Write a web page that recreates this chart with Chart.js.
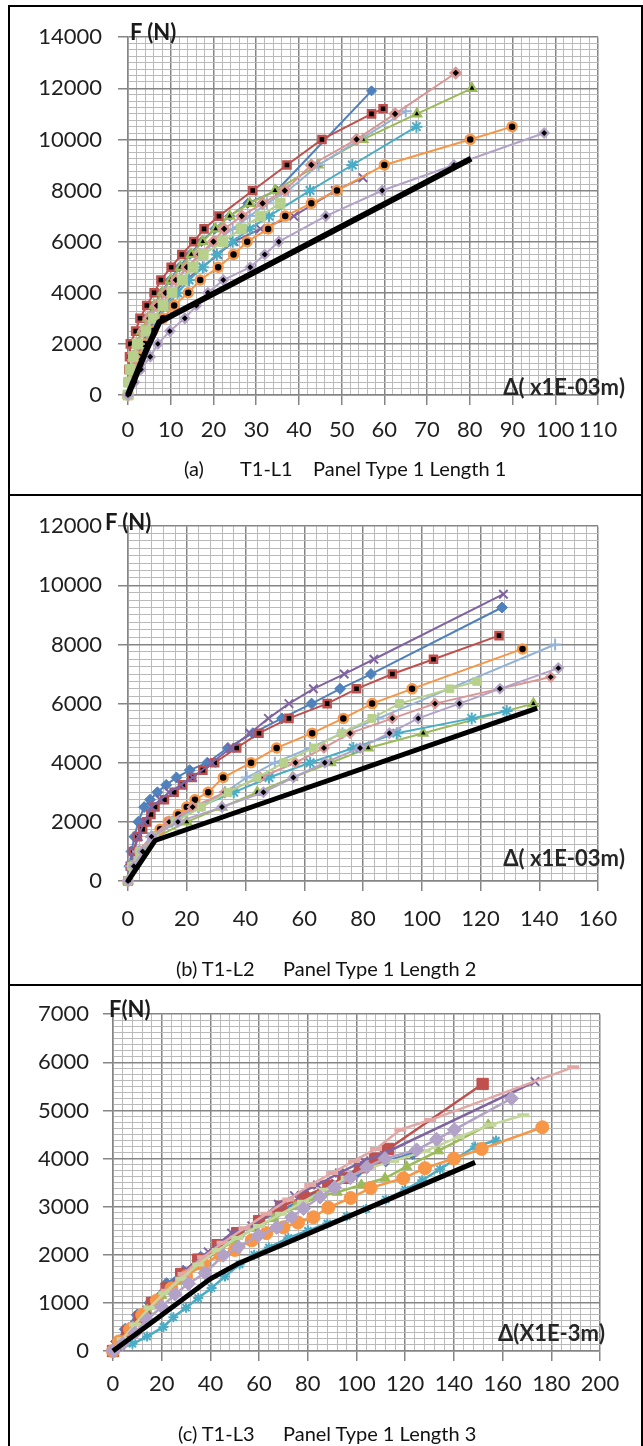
<!DOCTYPE html>
<html>
<head>
<meta charset="utf-8">
<script src="https://cdn.jsdelivr.net/npm/chart.js@4.4.0/dist/chart.umd.min.js"></script>
<style>
html,body{margin:0;padding:0;background:#fff;}
body{width:643px;height:1446px;position:relative;overflow:hidden;font-family:Lato,"Open Sans",sans-serif;}
canvas{position:absolute;left:0;}
.ln{position:absolute;background:#000;z-index:3;}
.t{position:absolute;white-space:pre;line-height:26px;z-index:4;color:#1a1a1a;}
.ft{font-weight:700;font-size:22px;}
.dt{font-weight:700;font-size:22px;color:#262626;}
.cap{font-size:20px;color:#111;}
</style>
</head>
<body>
<div class="ln" style="left:8px;top:5px;width:2px;height:1441px"></div>
<div class="ln" style="left:641px;top:5px;width:2px;height:1441px"></div>
<div class="ln" style="left:8px;top:5px;width:635px;height:2px"></div>
<div class="ln" style="left:8px;top:494px;width:635px;height:2px"></div>
<div class="ln" style="left:8px;top:984px;width:635px;height:2px"></div>

<canvas id="ca" width="643" height="486" style="top:8px"></canvas>
<canvas id="cb" width="643" height="486" style="top:497px"></canvas>
<canvas id="cc" width="643" height="459" style="top:987px"></canvas>

<div class="t ft" style="left:130px;top:19px">F (N)</div>
<div class="t dt" style="right:18px;top:374px">Δ( x1E-03m)</div>
<div class="t cap" style="left:184px;top:455px">(a)</div>
<div class="t cap" style="left:240px;top:455px">T1-L1</div>
<div class="t cap" style="left:313px;top:455px">Panel Type 1 Length 1</div>

<div class="t ft" style="left:105px;top:509px">F (N)</div>
<div class="t dt" style="right:18px;top:845px">Δ( x1E-03m)</div>
<div class="t cap" style="left:176px;top:955px">(b) T1-L2</div>
<div class="t cap" style="left:283px;top:955px">Panel Type 1 Length 2</div>

<div class="t ft" style="left:109px;top:996px">F(N)</div>
<div class="t dt" style="right:38px;top:1320px">Δ(X1E-3m)</div>
<div class="t cap" style="left:178px;top:1420px">(c) T1-L3</div>
<div class="t cap" style="left:283px;top:1420px">Panel Type 1 Length 3</div>

<script>
// ---------- Panel (a) T1-L1 ----------
const A_X_TICKS = [0,10,20,30,40,50,60,70,80,90,100,110];
const A_Y_TICKS = [0,2000,4000,6000,8000,10000,12000,14000];
const A_BLUE    = [[0,0],[0.4,500],[0.9,1000],[1.5,1500],[2.3,2000],[3.3,2500],[4.5,3000],[6,3500],[7.8,4000],[9.8,4500],[12,5000],[14.5,5500],[17.2,6000],[20.3,6500],[23.8,7000],[28,7500],[34.8,8000],[57,11900]];
const A_RED     = [[0,0],[0.1,500],[0.2,1000],[0.35,1500],[0.55,2000],[1.8,2500],[2.8,3000],[4.4,3500],[6.1,4000],[7.7,4500],[10.1,5000],[12.6,5500],[15.4,6000],[17.8,6500],[21.3,7000],[29.2,8000],[37.2,9000],[45.4,10000],[57,11000],[59.7,11200]];
const A_GREEN   = [[0,0],[0.3,500],[0.7,1000],[1.2,1500],[2,2000],[3.2,2500],[4.6,3000],[6.2,3500],[8,4000],[10,4500],[12.3,5000],[14.8,5500],[17.5,6000],[20.5,6500],[23.8,7000],[28.5,7500],[34.4,8000],[44.5,9000],[55,10000],[67.6,11000],[80.5,12000]];
const A_PURPLE  = [[0,0],[0.6,500],[1.3,1000],[2.2,1500],[3.3,2000],[4.7,2500],[6.4,3000],[8.5,3500],[10.8,4000],[13.5,4500],[17.5,5000],[21,5500],[24.8,6000],[31,6500],[38.8,7000],[48.5,8000],[55,8500]];
const A_TEAL    = [[0,0],[0.8,500],[1.6,1000],[2.6,1500],[3.8,2000],[5.3,2500],[7,3000],[9.2,3500],[11.6,4000],[14.3,4500],[17.5,5000],[20.8,5500],[24.5,6000],[28.5,6500],[33,7000],[42.6,8000],[52.5,9000],[67.5,10500]];
const A_ORANGE  = [[0,0],[0.6,500],[1.3,1000],[2.4,1500],[3.9,2000],[5.8,2500],[8.2,3000],[10.8,3500],[14.1,4000],[16.9,4500],[21.1,5000],[24.7,5500],[27.9,6000],[32.8,6500],[36.8,7000],[42.9,7500],[48.9,8000],[60,9000],[80.1,10000],[89.9,10500]];
const A_LBLUE   = [[0,0],[0.4,500],[0.9,1000],[1.6,1500],[2.5,2000],[3.7,2500],[5.2,3000],[7,3500],[9,4000],[11.3,4500],[14,5000],[17,5500],[20.5,6000],[24.5,6500],[28.5,7000],[32.5,7500],[37.5,8000],[44.6,9000],[65,11100]];
const A_PINK    = [[0,0],[0.4,500],[0.9,1000],[1.5,1500],[2.4,2000],[3.6,2500],[5,3000],[6.8,3500],[8.8,4000],[11.2,4500],[13.8,5000],[16.7,5500],[20,6000],[22.5,6500],[26.6,7000],[31.5,7500],[36.7,8000],[42.9,9000],[53.5,10000],[62.5,11000],[76.7,12600]];
const A_LGREEN  = [[0,0],[0.2,500],[0.5,1000],[1.2,1500],[2.2,2000],[4.2,2500],[5.9,3000],[8.2,3500],[10.3,4000],[12.7,4500],[15.2,5000],[17.6,5500],[22.2,6000],[26.5,6500],[31,7000],[35.6,7500]];
const A_LPURPLE = [[0,0],[1.5,500],[3,1000],[5.2,1500],[7,2000],[9.8,2500],[13.3,3000],[16,3500],[18.7,4000],[22.3,4500],[28.6,5000],[32,5500],[35.3,6000],[46.3,7000],[59.5,8000],[76.3,9000],[97.4,10250]];
const A_BLACK   = [[0,0],[4,1650],[7.3,2850],[80.3,9250]];

// ---------- Panel (b) T1-L2 ----------
const B_X_TICKS = [0,20,40,60,80,100,120,140,160];
const B_Y_TICKS = [0,2000,4000,6000,8000,10000,12000];
const B_PURPLE  = [[0,0],[0.8,500],[2,1000],[3.5,1500],[5.5,2000],[8,2500],[11,2750],[14,3000],[18,3250],[22,3500],[28.5,4000],[35,4500],[41.5,5000],[47.8,5500],[54.8,6000],[63.1,6500],[73.6,7000],[83.7,7500],[127.8,9700]];
const B_BLUE    = [[0,0],[0.5,500],[1.2,1000],[2.2,1500],[3.5,2000],[5.5,2500],[7.5,2750],[10,3000],[13,3250],[16.5,3500],[21,3750],[27,4000],[34,4500],[42.5,5000],[52.4,5500],[62.5,6000],[72.2,6500],[82.7,7000],[127.3,9250]];
const B_RED     = [[0,0],[0.8,500],[1.8,1000],[3.2,1500],[5,1750],[6.4,2000],[7.8,2250],[9.2,2500],[12.4,2750],[15.7,3000],[18.6,3250],[21.7,3500],[25.5,3750],[29.5,4000],[37,4500],[44.6,5000],[54.8,5500],[67.8,6000],[77.8,6500],[90,7000],[104,7500],[126.3,8300]];
const B_ORANGE  = [[0,0],[1.5,500],[4,1000],[9,1500],[10.9,1750],[13.7,2000],[17.1,2250],[20,2500],[22.8,2750],[27.3,3000],[32.4,3500],[41.9,4000],[50.6,4500],[62.7,5000],[73.3,5500],[83.1,6000],[96.7,6500],[134.3,7850]];
const B_LBLUE   = [[0,0],[1,500],[3.5,1000],[8,1500],[15,2000],[24,2500],[33,3000],[40.4,3500],[50,4000],[62,4500],[73,5000],[85.2,5500],[145.4,8000]];
const B_LGREEN  = [[0,0],[1.2,500],[4,1000],[9,1500],[16,2000],[25,2500],[34,3000],[44,3500],[53,4000],[63.1,4500],[72.7,5000],[83,5500],[92.4,6000],[109.6,6500],[118.7,6750]];
const B_LPURPLE = [[0,0],[2,500],[5,1000],[8,1500],[17,2000],[32,2500],[46.1,3000],[56.3,3500],[67,4000],[79,4500],[89,5000],[98.8,5500],[112.8,6000],[126.6,6500],[146.5,7200]];
const B_PINK    = [[0,0],[1.5,500],[4,1000],[8,1500],[14,2000],[22,2500],[33,3000],[45,3500],[57,4000],[66.7,4500],[75.6,5000],[90,5500],[104.5,6000],[143.9,6900]];
const B_GREEN   = [[0,0],[2,500],[5,1000],[10,1500],[20,2000],[32,2500],[44,3000],[56,3500],[69,4000],[81.8,4500],[100.5,5000],[138,6000]];
const B_TEAL    = [[0,0],[1.5,500],[4,1000],[8,1500],[14,2000],[24,2500],[36,3000],[48,3500],[62,4000],[76.7,4500],[91.5,5000],[117,5500],[128.9,5750]];
const B_BLACK   = [[0,0],[9.2,1370],[139.3,5850]];

// ---------- Panel (c) T1-L3 ----------
const C_X_TICKS = [0,20,40,60,80,100,120,140,160,180,200];
const C_Y_TICKS = [0,1000,2000,3000,4000,5000,6000,7000];
const C_BLUE    = [[0,0],[1.5,200],[5,450],[10,750],[15.2,1000],[22,1400],[29,1650],[36,1950],[44,2200],[52,2450],[60,2700],[70,2950],[80,3200],[90,3450],[100,3700],[112,3950],[123,4100]];
const C_RED     = [[0,0],[2.5,150],[6,400],[11,700],[16,1000],[22,1300],[28,1600],[35,1900],[43,2200],[51,2450],[60,2700],[69,3000],[78,3200],[88.4,3430],[94.6,3600],[101.4,3820],[107.6,4000],[113,4200],[151.8,5550]];
const C_GREEN   = [[0,0],[3,200],[8,500],[14,850],[20,1150],[27,1450],[34,1750],[42,2050],[50,2300],[58,2550],[66,2750],[75,3000],[84,3200],[92,3300],[102,3450],[111.7,3590],[120.6,3830],[133.6,4160],[154.1,4700]];
const C_PURPLE  = [[0,0],[3,200],[8,500],[14,850],[22,1250],[30.2,1690],[39.1,2060],[48.7,2450],[57,2600],[67.9,3050],[74.5,3230],[84,3450],[93,3700],[103,3950],[111,4100],[173.3,5600]];
const C_TEAL    = [[0,0],[8,150],[14,300],[20.7,500],[24.8,700],[30,900],[35,1100],[40.5,1310],[46,1550],[52,1800],[58,2000],[64,2150],[72,2350],[80,2500],[88,2650],[96,2800],[104,2950],[112,3150],[120,3350],[127,3550],[134.3,3780],[141,4000],[148.7,4250],[157.3,4375]];
const C_ORANGE  = [[0,0],[2.5,200],[7,450],[12,750],[18,1050],[24,1300],[30,1550],[37,1800],[44,2000],[50,2100],[57,2300],[63,2450],[70,2570],[76,2670],[82.3,2780],[88.4,2980],[97.6,3180],[105.8,3390],[119.2,3590],[128.1,3800],[140,4000],[151.4,4200],[176.3,4650]];
const C_PINK    = [[0,0],[4,250],[9,550],[15,900],[22,1250],[29,1600],[37,1950],[45,2250],[54,2550],[63,2850],[72,3150],[81,3450],[90,3700],[99,3950],[108,4200],[118,4600],[130.2,4800],[189,5900]];
const C_LGREEN  = [[0,0],[4,250],[9,550],[15,900],[21,1200],[28,1500],[35,1800],[43,2100],[51,2350],[60,2600],[69,2850],[78,3100],[87,3350],[96,3600],[105,3800],[115,3950],[128,4150],[142,4450],[155,4700],[168.5,4900]];
const C_LPURPLE = [[0,0],[4,150],[9,370],[14,650],[20,920],[25.5,1180],[31,1400],[37.8,1620],[45.3,1990],[51.5,2160],[59.7,2400],[67.2,2570],[73.4,2780],[78.2,2960],[85,3200],[91,3400],[97.5,3600],[104.2,3820],[111.7,4000],[124.7,4180],[132.9,4400],[140.2,4600],[163.7,5250]];
const C_BLACK   = [[0,0],[20,750],[40,1500],[51.5,1820],[148.7,3920]];

// ---------- styling ----------
const COL = {blue:'#4F81BD', red:'#C0504D', green:'#9BBB59', purple:'#8064A2', teal:'#4BACC6',
  orange:'#F79646', lblue:'#95B3D7', pink:'#DA9694', lgreen:'#B7D18C', lpurple:'#B3A2C7', black:'#000000'};
const MAJ = '#858585', MIN = '#bababa';
const TICK_FONT = {family:'Lato, "Open Sans", sans-serif', size:22};

function S(data, color, ps, r, fill, pbw, lw){ return {data, color, ps, r, fill, pbw, lw}; }

function gridTicks(max, step){ const t=[]; for(let i=0;i*step<=max+1e-9;i++) t.push({value:i*step}); return t; }

function build(id, P){
  const majX = new Set(P.xTicks), majY = new Set(P.yTicks);
  const isMaj = (c, set) => c && c.tick && set.has(c.tick.value);
  const datasets = P.series.map(s => ({
    data: s.data.map(p => ({x:p[0], y:p[1]})),
    showLine: true, tension: 0, clip: 12,
    borderColor: s.color, borderWidth: s.lw,
    pointStyle: s.ps || 'circle', pointRadius: s.r || 0, pointHoverRadius: s.r || 0,
    pointBackgroundColor: s.fill || s.color, pointBorderColor: s.color, pointBorderWidth: s.pbw || 1
  })).reverse();
  const xH = P.canvasTop + P.canvasH - P.bottom - 20;
  return new Chart(document.getElementById(id), {
    type: 'scatter',
    data: {datasets},
    options: {
      responsive:false, animation:false, devicePixelRatio:1,
      events: [],
      plugins:{legend:{display:false}, tooltip:{enabled:false}},
      layout:{autoPadding:false, padding:{left:0, right:643-P.right, top:P.top-P.canvasTop, bottom:20}},
      scales:{
        x:{type:'linear', min:0, max:P.xMax,
          afterBuildTicks: s => { s.ticks = gridTicks(P.xMax, P.xStep); },
          afterFit: s => { s.height = xH; },
          ticks:{autoSkip:false, maxRotation:0, minRotation:0, padding:P.xPad, color:'#1f1f1f', font:TICK_FONT,
            callback: v => majX.has(v) ? String(v) : ''},
          grid:{color: c => isMaj(c,majX) ? MAJ : MIN, lineWidth: c => isMaj(c,majX) ? 1.5 : 1,
            tickLength:10, tickColor: c => isMaj(c,majX) ? MAJ : 'rgba(0,0,0,0)', tickWidth:1.5},
          border:{color:MAJ, width:1.5}
        },
        y:{type:'linear', min:0, max:P.yMax,
          afterBuildTicks: s => { s.ticks = gridTicks(P.yMax, P.yStep); },
          afterFit: s => { s.width = P.left; },
          ticks:{autoSkip:false, padding:P.yPad, color:'#1f1f1f', font:TICK_FONT,
            callback: v => majY.has(v) ? String(v) : ''},
          grid:{color: c => isMaj(c,majY) ? MAJ : MIN, lineWidth: c => isMaj(c,majY) ? 1.5 : 1,
            tickLength:10, tickColor: c => isMaj(c,majY) ? MAJ : 'rgba(0,0,0,0)', tickWidth:1.5},
          border:{color:MAJ, width:1.5}
        }
      }
    }
  });
}

const K = '#000';
build('ca', {canvasTop:8, canvasH:486, left:128, top:33, right:598, bottom:395,
  xMax:110, xStep:2, yMax:14000, yStep:250, xTicks:A_X_TICKS, yTicks:A_Y_TICKS, xPad:12, yPad:16,
  series:[
    S(A_BLUE, COL.blue, 'rectRot', 5, COL.blue, 1, 2),
    S(A_RED, COL.red, 'rect', 5, K, 2.5, 2),
    S(A_GREEN, COL.green, 'triangle', 5, K, 2.2, 2),
    S(A_PURPLE, COL.purple, 'crossRot', 6, null, 2, 2),
    S(A_TEAL, COL.teal, 'star', 6, null, 2, 2),
    S(A_ORANGE, COL.orange, 'circle', 4.5, K, 2.5, 2),
    S(A_LBLUE, COL.lblue, 'cross', 6, null, 2, 2),
    S(A_PINK, COL.pink, 'rectRot', 5, K, 2.5, 2),
    S(A_LGREEN, COL.lgreen, 'rect', 7, COL.lgreen, 1, 2),
    S(A_LPURPLE, COL.lpurple, 'rectRot', 4.5, K, 2.2, 2),
    S(A_BLACK, COL.black, false, 0, null, 1, 6)
  ]});

build('cb', {canvasTop:497, canvasH:486, left:128, top:523, right:598, bottom:881,
  xMax:160, xStep:4, yMax:12000, yStep:250, xTicks:B_X_TICKS, yTicks:B_Y_TICKS, xPad:15, yPad:16,
  series:[
    S(B_BLUE, COL.blue, 'rectRot', 5.5, COL.blue, 1, 2),
    S(B_RED, COL.red, 'rect', 5, K, 2.5, 2),
    S(B_GREEN, COL.green, 'triangle', 5, K, 2.2, 2),
    S(B_PURPLE, COL.purple, 'crossRot', 6, null, 2, 2),
    S(B_TEAL, COL.teal, 'star', 6, null, 2, 2),
    S(B_ORANGE, COL.orange, 'circle', 4.5, K, 2.5, 2),
    S(B_LBLUE, COL.lblue, 'cross', 6, null, 2, 2),
    S(B_PINK, COL.pink, 'rectRot', 4.5, K, 2.2, 2),
    S(B_LGREEN, COL.lgreen, 'rect', 5.5, COL.lgreen, 1, 2),
    S(B_LPURPLE, COL.lpurple, 'rectRot', 4.5, K, 2.2, 2),
    S(B_BLACK, COL.black, false, 0, null, 1, 5)
  ]});

build('cc', {canvasTop:987, canvasH:459, left:113, top:1008, right:600, bottom:1351,
  xMax:200, xStep:4, yMax:7000, yStep:125, xTicks:C_X_TICKS, yTicks:C_Y_TICKS, xPad:10, yPad:14,
  series:[
    S(C_BLUE, COL.blue, 'rectRot', 6, COL.blue, 1, 2.5),
    S(C_RED, COL.red, 'rect', 8, COL.red, 1, 2.5),
    S(C_GREEN, COL.green, 'triangle', 6, COL.green, 1, 2.5),
    S(C_PURPLE, COL.purple, 'crossRot', 6, null, 2, 2.5),
    S(C_TEAL, COL.teal, 'star', 5, null, 2, 2.5),
    S(C_ORANGE, COL.orange, 'circle', 6.5, COL.orange, 1, 2.5),
    S(C_PINK, '#E3A7A6', 'line', 6, null, 4, 2.5),
    S(C_LGREEN, '#C3D69B', 'line', 6, null, 4, 2.5),
    S(C_LPURPLE, COL.lpurple, 'rectRot', 7, COL.lpurple, 1, 2.5),
    S(C_BLACK, COL.black, false, 0, null, 1, 5)
  ]});
</script>
</body>
</html>
